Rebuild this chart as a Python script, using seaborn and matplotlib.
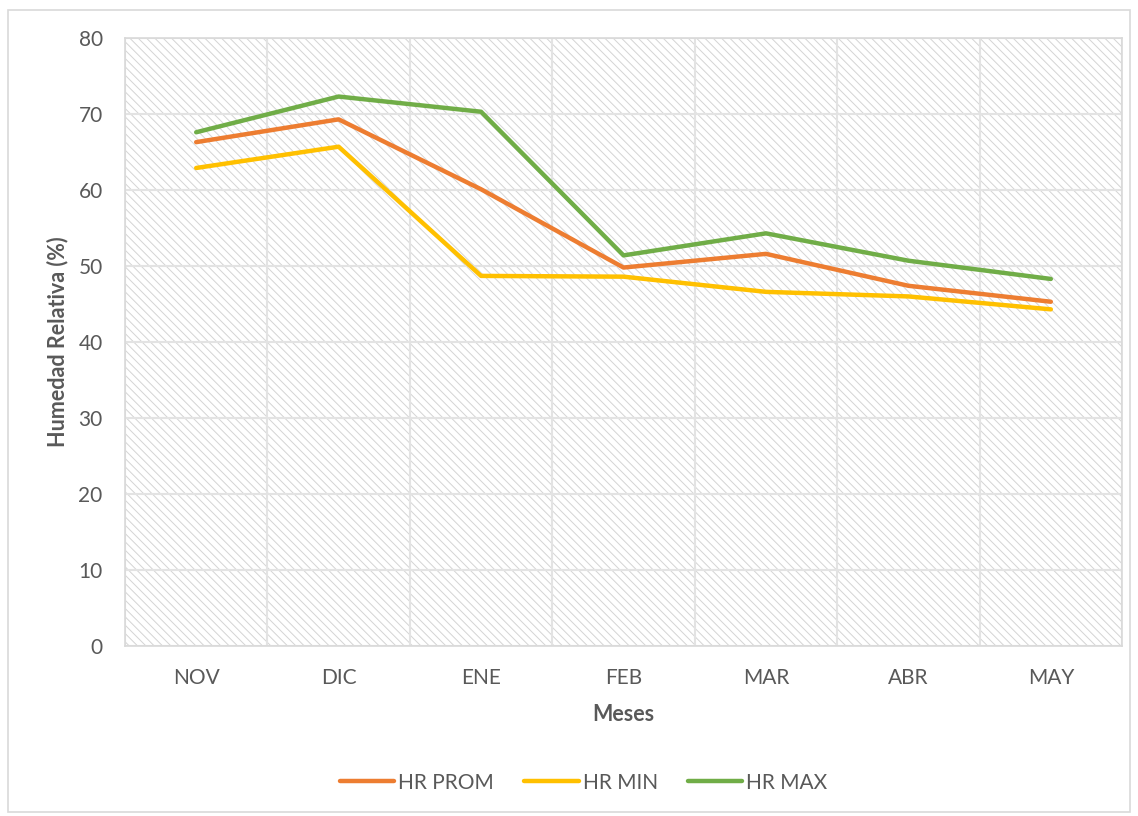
import matplotlib
matplotlib.use("Agg")
import matplotlib.pyplot as plt
import seaborn as sns
import pandas as pd
from matplotlib.patches import Rectangle

# ---- data ----
meses = ["NOV", "DIC", "ENE", "FEB", "MAR", "ABR", "MAY"]
hr_prom = [66.3, 69.3, 60.1, 49.8, 51.6, 47.4, 45.3]
hr_min = [62.9, 65.7, 48.7, 48.6, 46.6, 46.0, 44.3]
hr_max = [67.6, 72.3, 70.3, 51.4, 54.3, 50.7, 48.3]
series = ["HR PROM", "HR MIN", "HR MAX"]
colors = {"HR PROM": "#ED7D31", "HR MIN": "#FFC000", "HR MAX": "#70AD47"}

df = pd.DataFrame({
    "Meses": meses * 3,
    "HR": hr_prom + hr_min + hr_max,
    "Serie": [s for s in series for _ in meses],
})

sns.set_theme(style="white")
plt.rcParams["font.family"] = ["Lato", "DejaVu Sans"]
plt.rcParams["hatch.linewidth"] = 0.7
plt.rcParams["hatch.color"] = "#d4d4d4"

fig = plt.figure(figsize=(11.38, 8.16), dpi=100)
ax = fig.add_axes([0.1098, 0.2083, 0.8762, 0.7451])

# outer chart border
fig.patches.append(Rectangle((0.007, 0.005), 0.986, 0.983, transform=fig.transFigure,
                             fill=False, edgecolor="#d9d9d9", linewidth=1.2))

# hatched plot area
ax.set_facecolor("white")
ax.add_patch(Rectangle((0, 0), 1, 1, transform=ax.transAxes, facecolor="white",
                       edgecolor="#d4d4d4", hatch="\\\\\\\\", linewidth=0, zorder=0))

sns.lineplot(data=df, x="Meses", y="HR", hue="Serie", hue_order=series,
             palette=colors, linewidth=3.2, sort=False, ax=ax, legend=False, zorder=3)

ax.set_xlim(-0.5, len(meses) - 0.5)
ax.set_ylim(0, 80)
ax.set_yticks(range(0, 81, 10))
ax.set_xticks(range(len(meses)))
ax.set_xticklabels(meses)
ax.set_xticks([i - 0.5 for i in range(len(meses) + 1)], minor=True)
ax.grid(axis="y", which="major", color="#e3e3e3", linewidth=1.5, zorder=1)
ax.grid(axis="x", which="minor", color="#e3e3e3", linewidth=1.5, zorder=1)
ax.set_axisbelow(True)
ax.tick_params(axis="both", which="both", length=0, labelsize=15, labelcolor="#595959")
ax.tick_params(axis="x", pad=16)
ax.tick_params(axis="y", pad=16)
for sp in ax.spines.values():
    sp.set_color("#d9d9d9")
    sp.set_linewidth(1.2)

ax.set_xlabel("Meses", fontsize=15.5, fontweight="bold", color="#595959", labelpad=11)
ax.set_ylabel("Humedad Relativa (%)", fontsize=15.5, fontweight="bold", color="#595959", labelpad=7)

handles = [plt.Line2D([], [], color=colors[s], linewidth=3.2, solid_capstyle="round") for s in series]
fig.legend(handles, series, loc="center", bbox_to_anchor=(0.513, 0.041), ncol=3, frameon=False,
           fontsize=15, labelcolor="#595959", handlelength=2.6, handletextpad=0.2, columnspacing=1.45)

fig.savefig("out.png", dpi=100)
